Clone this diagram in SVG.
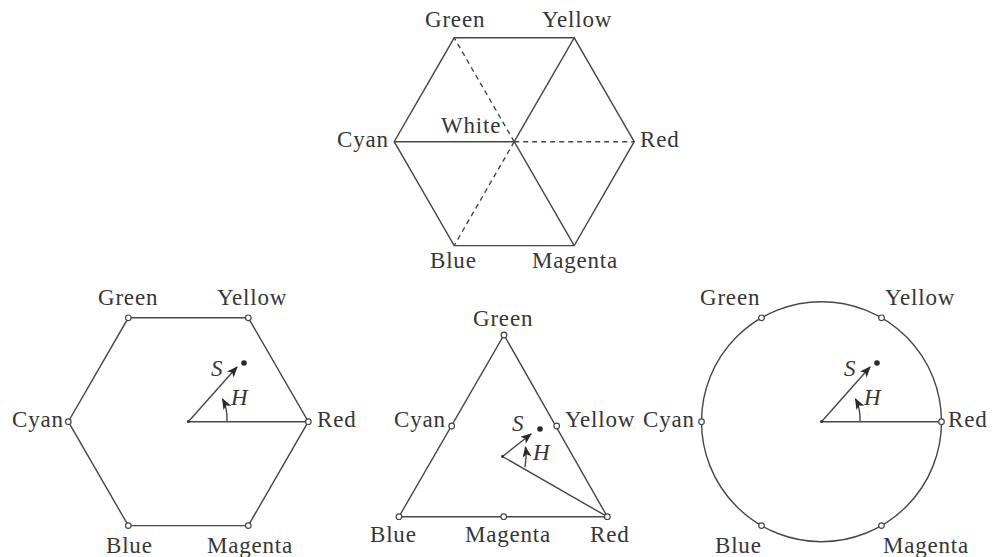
<svg xmlns="http://www.w3.org/2000/svg" width="992" height="557" viewBox="0 0 992 557">
<defs>
<style>
.ln{fill:none;stroke:#474747;stroke-width:1.4}
.ds{fill:none;stroke:#474747;stroke-width:1.4;stroke-dasharray:5 4}
.vx{fill:#fff;stroke:#474747;stroke-width:1.2}
.dt{fill:#2a2a2a}
.t{font-family:"Liberation Serif","Times New Roman",serif;font-size:23px;letter-spacing:0.8px;fill:#363636}
.i{font-family:"Liberation Serif","Times New Roman",serif;font-size:23px;font-style:italic;fill:#363636}
</style>
<marker id="ah" viewBox="0 0 10 8" refX="9" refY="4" markerWidth="12" markerHeight="9" markerUnits="userSpaceOnUse" orient="auto"><path d="M0,0 L10,4 L0,8 L2.5,4 z" fill="#2a2a2a"/></marker>
</defs>
<rect width="992" height="557" fill="#fff"/>

<g id="top-hexagon">
<polygon class="ln" points="634.2,141.7 574.2,37.8 454.2,37.8 394.2,141.7 454.2,245.6 574.2,245.6"/>
<line class="ln" x1="394.2" y1="141.7" x2="514.2" y2="141.7"/>
<line class="ln" x1="514.2" y1="141.7" x2="574.2" y2="37.8"/>
<line class="ln" x1="514.2" y1="141.7" x2="574.2" y2="245.6"/>
<line class="ds" x1="514.2" y1="141.7" x2="454.2" y2="37.8"/>
<line class="ds" x1="514.2" y1="141.7" x2="634.2" y2="141.7"/>
<line class="ds" x1="514.2" y1="141.7" x2="454.2" y2="245.6"/>
<text class="t" x="425" y="27">Green</text>
<text class="t" x="542" y="27">Yellow</text>
<text class="t" x="337" y="147">Cyan</text>
<text class="t" x="441" y="133">White</text>
<text class="t" x="640" y="147">Red</text>
<text class="t" x="430" y="268">Blue</text>
<text class="t" x="532" y="268">Magenta</text>
</g>

<g id="hexagon-hsi">
<polygon class="ln" points="308.3,421.7 248.3,317.8 128.3,317.8 68.3,421.7 128.3,525.6 248.3,525.6"/>
<line class="ln" x1="188.3" y1="421.7" x2="308.3" y2="421.7"/>
<line class="ln" x1="188.3" y1="421.7" x2="237" y2="367" marker-end="url(#ah)"/>
<path class="ln" d="M227 421 Q227.5 408 222.5 399" marker-end="url(#ah)"/>
<circle class="dt" cx="188.3" cy="421.7" r="1.4"/>
<circle class="dt" cx="244" cy="363" r="2.8"/>
<circle class="vx" cx="308.3" cy="421.7" r="2.8"/>
<circle class="vx" cx="248.3" cy="317.8" r="2.8"/>
<circle class="vx" cx="128.3" cy="317.8" r="2.8"/>
<circle class="vx" cx="68.3" cy="421.7" r="2.8"/>
<circle class="vx" cx="128.3" cy="525.6" r="2.8"/>
<circle class="vx" cx="248.3" cy="525.6" r="2.8"/>
<text class="i" x="211" y="376">S</text>
<text class="i" x="231" y="405">H</text>
<text class="t" x="98" y="305">Green</text>
<text class="t" x="217" y="305">Yellow</text>
<text class="t" x="12" y="427">Cyan</text>
<text class="t" x="317" y="427">Red</text>
<text class="t" x="106" y="553">Blue</text>
<text class="t" x="207" y="553">Magenta</text>
</g>

<g id="triangle-hsi">
<polygon class="ln" points="504,335 607.3,516.7 399,516.7"/>
<line class="ln" x1="502.5" y1="456.5" x2="607.3" y2="516.7"/>
<line class="ln" x1="502.5" y1="456.5" x2="531" y2="434" marker-end="url(#ah)"/>
<path class="ln" d="M525 467 Q527 457 525.5 447" marker-end="url(#ah)"/>
<circle class="dt" cx="502.5" cy="456.5" r="1.4"/>
<circle class="dt" cx="540" cy="429" r="2.8"/>
<circle class="vx" cx="504" cy="335" r="2.8"/>
<circle class="vx" cx="451.7" cy="426" r="2.8"/>
<circle class="vx" cx="556.7" cy="426" r="2.8"/>
<circle class="vx" cx="399" cy="516.7" r="2.8"/>
<circle class="vx" cx="503.7" cy="516.7" r="2.8"/>
<circle class="vx" cx="607.3" cy="516.7" r="2.8"/>
<text class="i" x="512" y="431">S</text>
<text class="i" x="533" y="460">H</text>
<text class="t" x="473" y="326">Green</text>
<text class="t" x="394" y="427">Cyan</text>
<text class="t" x="565" y="427">Yellow</text>
<text class="t" x="370" y="542">Blue</text>
<text class="t" x="465" y="542">Magenta</text>
<text class="t" x="590" y="542">Red</text>
</g>

<g id="circle-hsi">
<circle class="ln" cx="821.5" cy="421.7" r="120"/>
<line class="ln" x1="821.5" y1="421.7" x2="941.5" y2="421.7"/>
<line class="ln" x1="821.5" y1="421.7" x2="870" y2="367" marker-end="url(#ah)"/>
<path class="ln" d="M860 421 Q860.5 408 855.5 399" marker-end="url(#ah)"/>
<circle class="dt" cx="821.5" cy="421.7" r="1.4"/>
<circle class="dt" cx="877" cy="363" r="2.8"/>
<circle class="vx" cx="941.5" cy="421.7" r="2.8"/>
<circle class="vx" cx="881.5" cy="317.8" r="2.8"/>
<circle class="vx" cx="761.5" cy="317.8" r="2.8"/>
<circle class="vx" cx="701.5" cy="421.7" r="2.8"/>
<circle class="vx" cx="761.5" cy="525.6" r="2.8"/>
<circle class="vx" cx="881.5" cy="525.6" r="2.8"/>
<text class="i" x="844" y="376">S</text>
<text class="i" x="864" y="405">H</text>
<text class="t" x="700" y="305">Green</text>
<text class="t" x="885" y="305">Yellow</text>
<text class="t" x="643" y="427">Cyan</text>
<text class="t" x="948" y="427">Red</text>
<text class="t" x="715" y="553">Blue</text>
<text class="t" x="883" y="553">Magenta</text>
</g>
</svg>
